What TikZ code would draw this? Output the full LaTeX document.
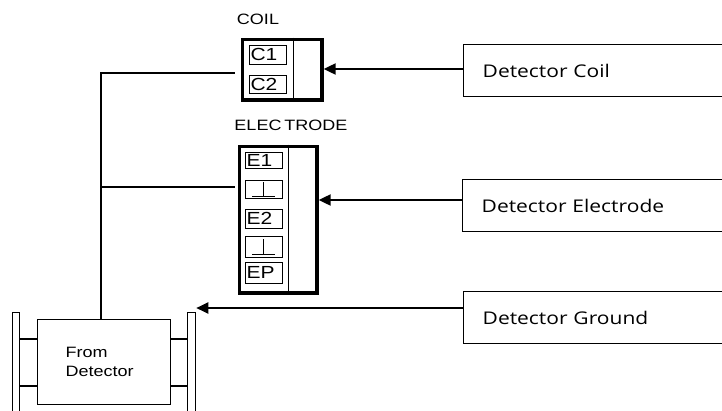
\documentclass[tikz,border=0pt]{standalone}
\usepackage{fontspec}
\setmainfont{Liberation Sans}[FakeStretch=1.2]
\newfontfamily\labfont{Open Sans}[FakeStretch=1.2]
\usetikzlibrary{arrows.meta}
\begin{document}
\begin{tikzpicture}[x=1pt,y=-1pt,
  wire/.style={line width=2pt},
  arr/.style={line width=2pt,-{Triangle[length=12pt,width=11pt]}},
  term/.style={draw,line width=3.3pt,anchor=north west,outer sep=1.65pt,inner sep=0pt},
  sbox/.style={draw,line width=1pt,minimum width=37pt,minimum height=18pt,inner sep=0pt,
    text width=34pt,align=left,font=\fontsize{17.5}{17.5}\selectfont},
  rbox/.style={draw,line width=1.4pt,anchor=north west,minimum height=52pt,text width=260pt,
    inner xsep=19pt,inner ysep=0pt,align=left,font=\labfont\fontsize{17.5}{20}\selectfont},
  captext/.style={font=\fontsize{15}{15}\selectfont,inner sep=0pt},
  flange/.style={draw,line width=1.3pt,anchor=north west,inner sep=0pt,minimum height=110pt}
]
\useasboundingbox (0,0) rectangle (722,410);
\clip (0,0) rectangle (722,410);
% right labels
\node (dcoil) [rbox] at (463,44) {Detector Coil};
\node (delec) [rbox] at (462,179) {Detector Electrode};
\node (dgnd) [rbox] at (463,291) {Detector Ground};
% coil terminal
\node (coiltxt) [captext] at (258,19.5) {COIL};
\node (coil) [term,minimum width=79.7pt,minimum height=60.7pt] at (240.65,37.65) {};
\draw[line width=1pt] (293,37.6) -- (293,98.4);
\node (c1) [sbox,minimum height=19pt] at (267.5,54.5) {C1};
\node (c2) [sbox,minimum height=18pt] at (267.5,84) {C2};
% electrode terminal
\node (electxt) [captext] at (291,125) {ELEC\kern3pt TRODE};
\node (elec) [term,minimum width=77.7pt,minimum height=146.7pt] at (237.65,144.65) {};
\draw[line width=1pt] (288,144.6) -- (288,291.4);
\node (e1) [sbox,minimum height=16pt] at (263.5,160) {E1};
\node (g1) [sbox,minimum height=18pt] at (263.5,189) {};
\draw[line width=1pt] (252,196) -- (275,196) (263.5,182) -- (263.5,196);
\node (e2) [sbox,minimum height=19pt] at (263.5,218.5) {E2};
\node (g2) [sbox,minimum height=21pt] at (263.5,246.5) {};
\draw[line width=1pt] (252,254) -- (275,254) (263.5,239) -- (263.5,254);
\node (ep) [sbox,minimum height=21pt] at (263.5,272.5) {EP};
% detector
\node (det) [draw,line width=1.3pt,anchor=north west,minimum width=133pt,minimum height=85pt,
  text width=77pt,inner xsep=28pt,align=left,
  font=\fontsize{15}{18.5}\selectfont] at (37,319) {From\\Detector};
\node (lf) [flange,minimum width=7pt] at (12,312) {};
\node (rf) [flange,minimum width=8pt] at (187,312) {};
\draw[line width=1.3pt] (lf.east |- 0,339) -- (det.west |- 0,339)
  (lf.east |- 0,386) -- (det.west |- 0,386)
  (det.east |- 0,339) -- (rf.west |- 0,339)
  (det.east |- 0,386) -- (rf.west |- 0,386);
% wiring
\coordinate (jt) at (101,73);
\coordinate (jm) at (101,187);
\draw[wire,shorten >=6pt] (det.north -| jt) -- (jt) -- (jt -| coil.west);
\draw[wire,shorten >=3pt] (jm) -- (jm -| elec.west);
% arrows
\draw[arr] (dcoil.west |- 0,69) -- (coil.east |- 0,69);
\draw[arr] (delec.west |- 0,200) -- (elec.east |- 0,200);
\draw[arr] (dgnd.west |- 0,308) -- (rf.north east |- 0,308);
\end{tikzpicture}
\end{document}
